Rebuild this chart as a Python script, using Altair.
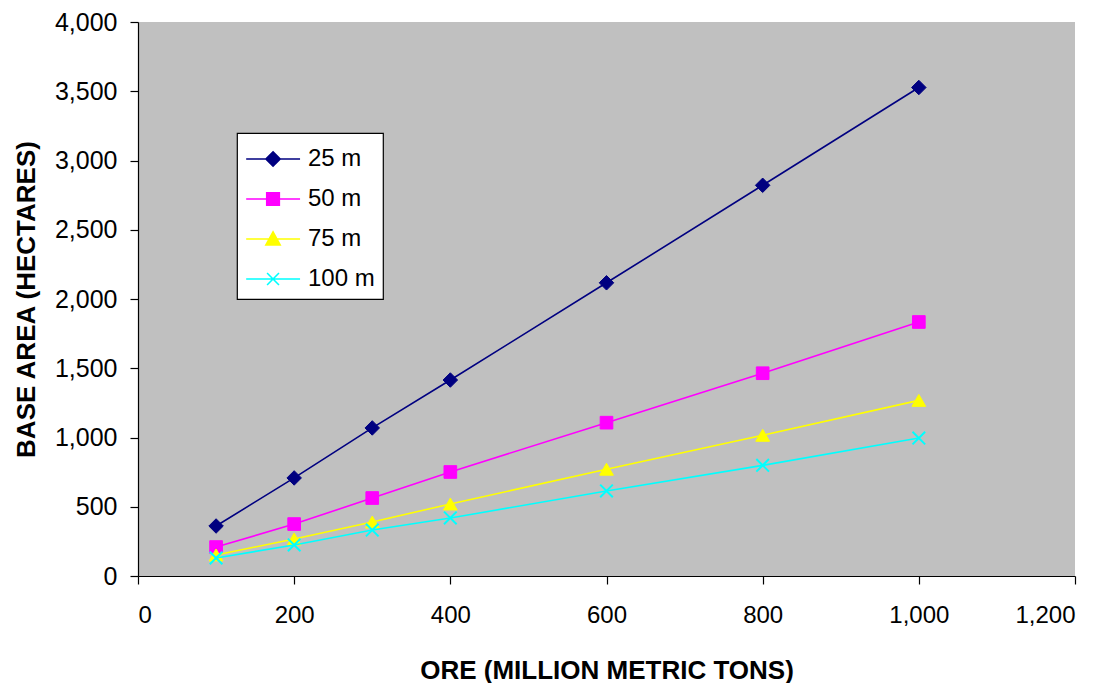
import altair as alt
import pandas as pd

# ---- data ----
ore = [100, 200, 300, 400, 600, 800, 1000]
area_25 = [361, 708, 1069, 1415, 2117, 2821, 3527]
area_50 = [209, 375, 563, 751, 1107, 1464, 1834]
area_75 = [152, 267, 390, 520, 771, 1016, 1268]
area_100 = [130, 224, 332, 419, 614, 799, 996]
series_names = ["25 m", "50 m", "75 m", "100 m"]
series_values = [area_25, area_50, area_75, area_100]
series_colors = ["#000080", "#FF00FF", "#FFFF00", "#00FFFF"]

rows = []
for name, vals in zip(series_names, series_values):
    for x, y in zip(ore, vals):
        rows.append({"ore": x, "area": y, "series": name})
df = pd.DataFrame(rows)

X_PATH = "M-1,-1L1,1M1,-1L-1,1"
marker_shapes = ["diamond", "square", "triangle-up", X_PATH]
marker_sizes = [210, 160, 190, 160]

# legend symbols: horizontal line plus marker
legend_paths = [
    "M-0.99,0L2.18,0M0.59,-0.42L1.01,0L0.59,0.42L0.17,0Z",
    "M-0.99,0L2.18,0M0.22,-0.37L0.96,-0.37L0.96,0.37L0.22,0.37Z",
    "M-0.99,0L2.18,0M0.59,-0.42L1.01,0.35L0.17,0.35Z",
    "M-0.99,0L2.18,0M0.24,-0.35L0.94,0.35M0.94,-0.35L0.24,0.35",
]

x_enc = alt.X(
    "ore:Q",
    scale=alt.Scale(domain=[0, 1200], nice=False),
    axis=alt.Axis(
        values=[0, 200, 400, 600, 800, 1000, 1200],
        format=",d",
        title="ORE (MILLION METRIC TONS)",
    ),
)
y_enc = alt.Y(
    "area:Q",
    scale=alt.Scale(domain=[0, 4000], nice=False),
    axis=alt.Axis(
        values=[0, 500, 1000, 1500, 2000, 2500, 3000, 3500, 4000],
        format=",d",
        title="BASE AREA (HECTARES)",
    ),
)

layers = []
for name, col, shp, sz in zip(series_names, series_colors, marker_shapes, marker_sizes):
    sub = alt.Chart(df).transform_filter(alt.datum.series == name)
    layers.append(
        sub.mark_line(color=col, strokeWidth=1.6).encode(x=x_enc, y=y_enc)
    )
    if shp == X_PATH:
        pt = sub.mark_point(shape=shp, size=sz, filled=False, color=col, strokeWidth=2, opacity=1)
    else:
        pt = sub.mark_point(shape=shp, size=sz, filled=True, color=col, stroke=col, strokeWidth=1, opacity=1)
    layers.append(pt.encode(x=x_enc, y=y_enc))

# legend-only layer (no marks drawn)
legend_layer = (
    alt.Chart(df)
    .transform_filter("datum.area < 0")
    .mark_point(filled=True, size=1156, opacity=1, strokeWidth=1.6)
    .encode(
        x=x_enc,
        y=y_enc,
        fill=alt.Fill("series:N", scale=alt.Scale(domain=series_names, range=series_colors),
                      sort=series_names, legend=alt.Legend(title=None)),
        stroke=alt.Stroke("series:N", scale=alt.Scale(domain=series_names, range=series_colors),
                          sort=series_names, legend=alt.Legend(title=None)),
        shape=alt.Shape("series:N", scale=alt.Scale(domain=series_names, range=legend_paths),
                        sort=series_names, legend=alt.Legend(title=None)),
    )
)

chart = (
    alt.layer(*layers, legend_layer)
    .properties(width=937, height=554, padding={"left": 5, "top": 2, "right": 5, "bottom": 0})
    .configure_view(fill="#C0C0C0", stroke=None)
    .configure_axis(
        grid=False,
        domainColor="#000000",
        domainWidth=1.2,
        tickColor="#000000",
        tickSize=8,
        tickWidth=1.2,
        labelFont="Liberation Sans",
        labelFontSize=24,
        labelColor="#000000",
        titleFont="Liberation Sans",
        titleFontSize=26,
        titleFontWeight="bold",
        titleColor="#000000",
    )
    .configure_axisX(labelPadding=19, titlePadding=30)
    .configure_axisY(labelPadding=13, titlePadding=15, labelFontSize=25)
    .configure_legend(
        orient="none",
        legendX=99,
        legendY=111,
        fillColor="#FFFFFF",
        strokeColor="#000000",
        strokeWidth=1.2,
        padding=8,
        symbolSize=1156,
        symbolStrokeWidth=1.6,
        labelFont="Liberation Sans",
        labelFontSize=24,
        labelColor="#000000",
        labelOffset=27,
        rowPadding=10,
    )
)

chart.save("out.html", embed_options={"renderer": "svg", "actions": False})
